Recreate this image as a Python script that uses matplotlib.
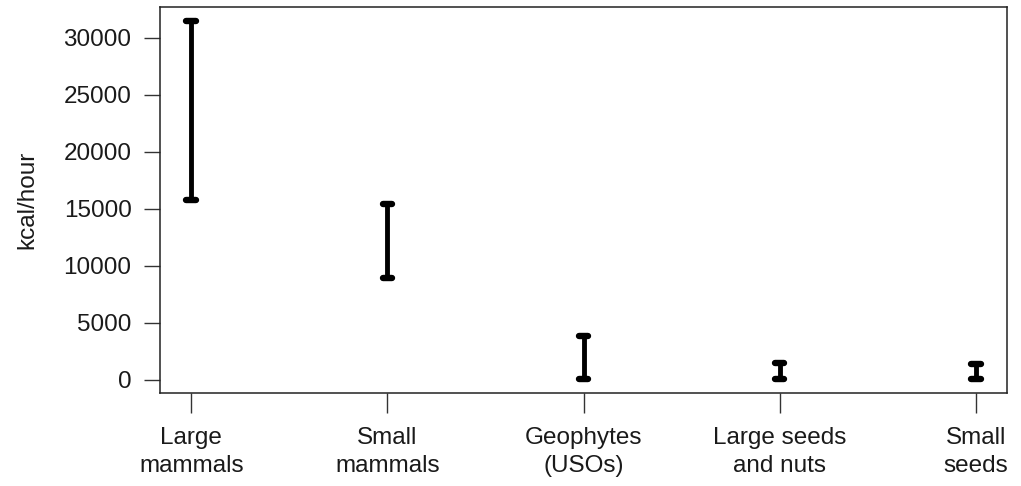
import matplotlib
matplotlib.use("Agg")
import matplotlib.pyplot as plt
import numpy as np

plt.rcParams['font.family'] = ['Liberation Sans', 'DejaVu Sans']

categories = ["Large\nmammals", "Small\nmammals", "Geophytes\n(USOs)",
              "Large seeds\nand nuts", "Small\nseeds"]
low_kcal = [15750, 8950, 100, 100, 100]
high_kcal = [31450, 15400, 3870, 1450, 1400]
y_ticks = [0, 5000, 10000, 15000, 20000, 25000, 30000]

x = np.arange(1, len(categories) + 1)

fig = plt.figure(figsize=(10.21, 4.86), dpi=100)
ax = fig.add_axes([0.1567, 0.1914, 0.8296, 0.7942])

# bars as thick vertical segments with short round caps (R-style range plot)
bars = ax.vlines(x, low_kcal, high_kcal, color="black", linewidth=3.5)
bars.set_capstyle("butt")
half = 0.025
for lo_hi in (low_kcal, high_kcal):
    caps = ax.hlines(lo_hi, x - half, x + half, color="black", linewidth=4.6)
    caps.set_capstyle("round")

ax.set_xlim(0.84, 5.16)
span = max(high_kcal) - min(low_kcal)
ax.set_ylim(min(low_kcal) - 0.04 * span, max(high_kcal) + 0.04 * span)

fs = 17.5
ax.set_xticks(x)
ax.set_xticklabels(categories, fontsize=fs, linespacing=1.38)
ax.set_yticks(y_ticks)
ax.set_yticklabels([str(v) for v in y_ticks], fontsize=fs)
ax.tick_params(axis="y", length=11.5, width=1.0, pad=9, colors="#333333",
               labelcolor="#1a1a1a")
ax.tick_params(axis="x", length=14.5, width=1.0, pad=10, colors="#333333",
               labelcolor="#1a1a1a")
for s in ax.spines.values():
    s.set_linewidth(1.1)
    s.set_color("#222222")

ax.set_ylabel("kcal/hour", fontsize=fs, color="#1a1a1a", labelpad=18)

fig.savefig("out.png", dpi=100)
